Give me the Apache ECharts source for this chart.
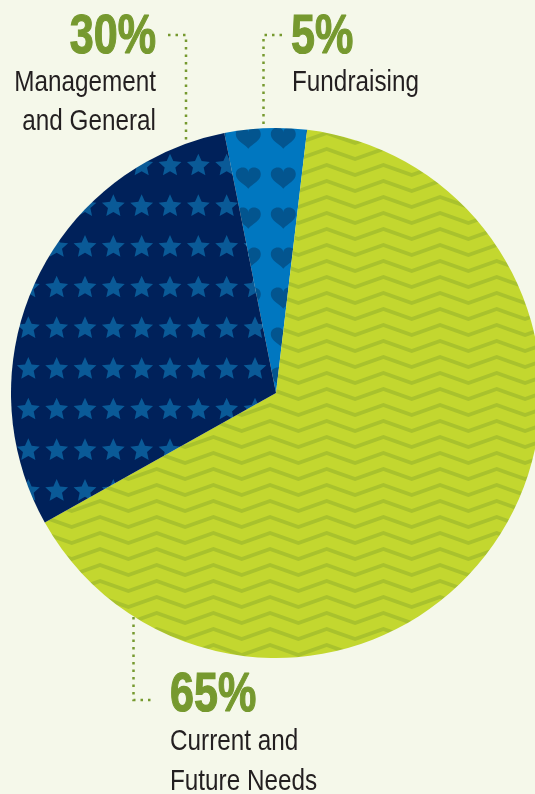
<!DOCTYPE html>
<html><head><meta charset="utf-8">
<script src="https://cdn.jsdelivr.net/npm/echarts@6/dist/echarts.min.js"></script>
<style>html,body{margin:0;padding:0;background:#f5f8ea;}#c{width:535px;height:794px;}</style>
</head><body><div id="c"></div>
<script>
// ---- data ----
const categories = ['Fundraising', 'Current and Future Needs', 'Management and General'];
const values = [5, 65, 30];
const labelLines = [['Fundraising'], ['Current and', 'Future Needs'], ['Management', 'and General']];

// ---- pattern tiles ----
function mk(w, h) { const c = document.createElement('canvas'); c.width = w; c.height = h; return c; }
function star(g, cx, cy, R) {
  const r = R * 0.47;
  g.beginPath();
  for (let i = 0; i < 10; i++) {
    const a = -Math.PI / 2 + i * Math.PI / 5;
    const rr = i % 2 ? r : R;
    const x = cx + rr * Math.cos(a), y = cy + rr * Math.sin(a);
    i ? g.lineTo(x, y) : g.moveTo(x, y);
  }
  g.closePath(); g.fill();
}
function heart(g, cx, cy, s) {
  g.beginPath();
  g.moveTo(cx, cy - s * 0.45);
  g.bezierCurveTo(cx, cy - s * 1.0, cx - s, cy - s * 1.0, cx - s, cy - s * 0.3);
  g.bezierCurveTo(cx - s, cy + s * 0.2, cx - s * 0.35, cy + s * 0.45, cx, cy + s * 0.85);
  g.bezierCurveTo(cx + s * 0.35, cy + s * 0.45, cx + s, cy + s * 0.2, cx + s, cy - s * 0.3);
  g.bezierCurveTo(cx + s, cy - s * 1.0, cx, cy - s * 1.0, cx, cy - s * 0.45);
  g.closePath(); g.fill();
}
function starTile() {
  const w = 85, h = 122, c = mk(w, h), g = c.getContext('2d');
  g.fillStyle = '#00215a'; g.fillRect(0, 0, w, h);
  g.fillStyle = '#0a5a97';
  const sx = w / 3, sy = h / 3;
  for (let i = -1; i <= 3; i++) for (let j = -1; j <= 3; j++) star(g, i * sx, j * sy + 3, 12);
  return c;
}
function heartTile() {
  const w = 35, h = 40, c = mk(w, h), g = c.getContext('2d');
  g.fillStyle = '#0077c0'; g.fillRect(0, 0, w, h);
  g.fillStyle = '#03558f';
  for (let i = -1; i <= 1; i++) for (let j = -1; j <= 1; j++) heart(g, 3.3 + i * w, 18 + j * h, 12.5);
  return c;
}
function zigTile() {
  const w = 170, h = 16, c = mk(w, h), g = c.getContext('2d');
  g.fillStyle = '#c3d72f'; g.fillRect(0, 0, w, h);
  g.strokeStyle = '#a9c22d'; g.lineWidth = 3.8; g.lineJoin = 'miter';
  const p = w / 3;
  for (let j = -1; j <= 1; j++) {
    const py = 5 + j * h;
    g.beginPath();
    for (let k = -2; k <= 4; k++) {
      const x = 43.4 + k * p;
      k === -2 ? g.moveTo(x, py) : g.lineTo(x, py);
      g.lineTo(x + p / 2, py + 10);
    }
    g.stroke();
  }
  return c;
}
const patterns = [
  { image: heartTile(), repeat: 'repeat' },
  { image: zigTile(), repeat: 'repeat' },
  { image: starTile(), repeat: 'repeat' }
];

// ---- labels & leaders ----
const GREEN = '#76992f', DARK = '#231f20';
const FONT = "'Liberation Sans', Arial, sans-serif";
const graphics = [];
function txt(t, x, y, align, font, fill, sx, stroke) {
  graphics.push({ type: 'text', x, y, scaleX: sx, style: { text: t, x: 0, y: 0, textAlign: align,
    textVerticalAlign: 'middle', font: font, fill: fill, stroke: stroke || null, lineWidth: stroke ? 1.2 : 0 } });
}
function pct(i, x, y, align) { txt(values[i] + '%', x, y, align, 'bold 56px ' + FONT, GREEN, 0.77, GREEN); }
function lines(i, x, ys, align) {
  labelLines[i].forEach((t, k) => txt(t, x, ys[k], align, '30px ' + FONT, DARK, 0.81));
}
function leader(pts) {
  graphics.push({ type: 'polyline', shape: { points: pts }, style: { stroke: GREEN, lineWidth: 2.5, lineDash: [2.5, 5], fill: null } });
}
pct(2, 156, 38, 'right'); lines(2, 156, [83, 122], 'right');
pct(0, 291, 38, 'left'); lines(0, 292, [83], 'left');
pct(1, 170, 696, 'left'); lines(1, 170, [742, 782], 'left');
leader([[168, 35], [186, 35], [186, 143]]);
leader([[282, 35], [263.5, 35], [263.5, 128]]);
leader([[133.5, 617], [133.5, 700], [152, 700]]);

const chart = echarts.init(document.getElementById('c'), null, { renderer: 'canvas' });
chart.setOption({
  backgroundColor: '#f5f8ea',
  animation: false,
  series: [{
    type: 'pie', silent: true, center: [276, 393], radius: 265, startAngle: 101.25, clockwise: true,
    label: { show: false }, labelLine: { show: false },
    itemStyle: { borderWidth: 0 },
    data: categories.map((n, i) => ({ name: n, value: values[i], itemStyle: { color: patterns[i] } }))
  }],
  graphic: graphics
});
</script></body></html>
